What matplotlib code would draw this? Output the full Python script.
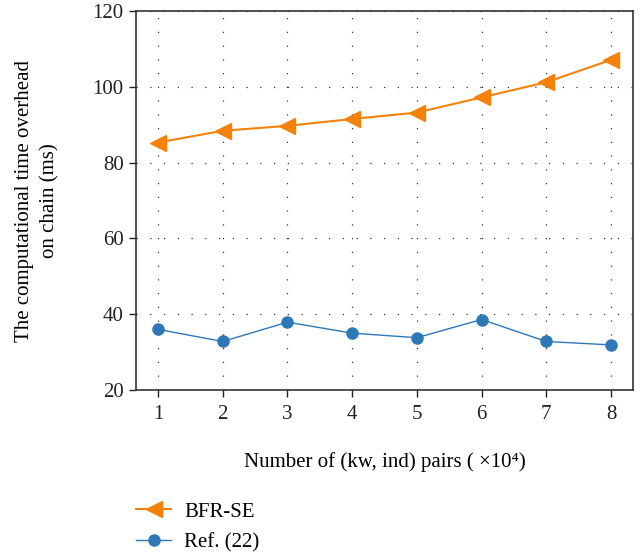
import matplotlib
matplotlib.use("Agg")
import matplotlib.pyplot as plt

x_vals = [1, 2, 3, 4, 5, 6, 7, 8]
bfr_se = [85.3, 88.4, 89.7, 91.5, 93.2, 97.2, 101.2, 107.1]
ref22 = [36.0, 32.8, 37.9, 35.0, 33.8, 38.6, 32.8, 31.9]
y_ticks = [20, 40, 60, 80, 100, 120]
labels = ["BFR-SE", "Ref. (22)"]

plt.rcParams['font.family'] = ['Liberation Serif', 'DejaVu Serif']

W, H = 640, 556
fig = plt.figure(figsize=(W / 100, H / 100), dpi=100)
ax = fig.add_axes([136 / W, 1 - 390 / H, (633 - 136) / W, (390 - 11) / H])

orange = '#f4820a'
blue = '#2f78b8'

ax.plot(x_vals, bfr_se, color=orange, lw=1.5, marker='<', ms=11, label=labels[0])
ax.plot(x_vals, ref22, color=blue, lw=1.0, marker='o', ms=8, label=labels[1])

ax.set_xlim(0.66, 8.34)
ax.set_ylim(20, 120)
ax.set_xticks(x_vals)
ax.set_yticks(y_ticks)
ax.tick_params(axis='both', direction='out', length=5, width=1, labelsize=15, colors='#222222')
ax.tick_params(axis='x', pad=6)
ax.tick_params(axis='y', pad=4)
ax.grid(True, color='#333333', linestyle=(0, (1, 10)), linewidth=0.9)
for s in ax.spines.values():
    s.set_linewidth(1.2)
    s.set_color('#333333')

ax.set_xlabel("Number of (kw, ind) pairs ( \u00d710\u2074)", fontsize=15, labelpad=20)
ax.set_ylabel("The computational time overhead\non chain (ms)", fontsize=15,
              labelpad=24, linespacing=1.4)

leg = ax.legend(loc='upper left', bbox_to_anchor=(136 / W, 1 - 502 / H),
                bbox_transform=fig.transFigure, frameon=False, fontsize=15,
                borderpad=0, borderaxespad=0, handlelength=1.7, handletextpad=0.6,
                labelspacing=0.55)

fig.savefig("out.png", dpi=100)
